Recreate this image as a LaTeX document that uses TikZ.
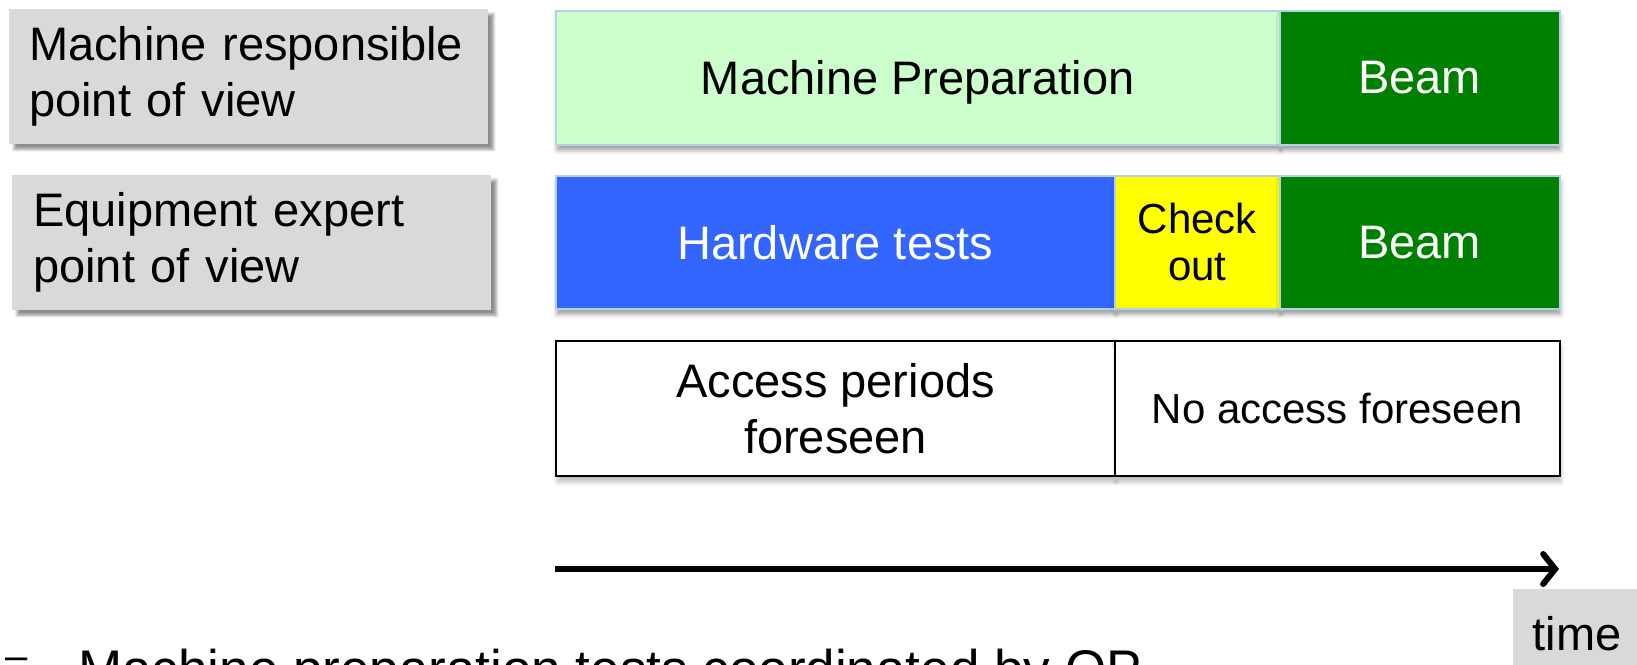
\documentclass[tikz,border=0pt]{standalone}
\usepackage{fontspec}
\setmainfont{Liberation Sans}
\usetikzlibrary{shadows, shadows.blur, arrows.meta, positioning, calc}

\definecolor{viewgray}{HTML}{D9D9D9}
\definecolor{prepgreen}{HTML}{CCFFCC}
\definecolor{beamgreen}{HTML}{008000}
\definecolor{hwblue}{HTML}{3366FF}
\definecolor{chkyellow}{HTML}{FFFF00}
\definecolor{edgeblue}{HTML}{B4D2E4}

\tikzset{
  viewbox/.style={fill=viewgray, anchor=north west, inner sep=0pt, align=left,
    blur shadow={shadow xshift=5pt, shadow yshift=-5pt, shadow blur radius=3pt, shadow opacity=45}},
  phase/.style={draw=edgeblue, line width=1.5pt, anchor=north west, inner sep=0pt, align=center,
    blur shadow={shadow xshift=1pt, shadow yshift=-6pt, shadow blur radius=4pt, shadow opacity=35}},
  accbox/.style={draw=black, line width=2pt, fill=white, anchor=north west, inner sep=0pt, align=center,
    blur shadow={shadow xshift=1pt, shadow yshift=-6pt, shadow blur radius=4pt, shadow opacity=25}},
  big/.style={font=\fontsize{47}{56}\selectfont},
  small/.style={font=\fontsize{42}{47}\selectfont}
}

\begin{document}
\begin{tikzpicture}[x=1pt, y=-1pt]
        \useasboundingbox (0,0) rectangle (1637,664);
%
        \node[viewbox, big, minimum width=479pt, minimum height=135pt, text width=479pt] (V1) at (9,9)
              {\hspace*{20pt}Machine responsible\\\hspace*{20pt}point of view};
        \node[viewbox, big, minimum width=479pt, minimum height=135pt, text width=479pt] (V2) at (12,175)
              {\hspace*{21pt}Equipment expert\\\hspace*{21pt}point of view};
%
        \node[phase, big, fill=prepgreen, minimum width=724pt, minimum height=134pt, text depth=0pt] (P) at (555,10) {Machine Preparation};
        \node[phase, big, fill=beamgreen, text=white, minimum width=280pt, minimum height=134pt] (B1) at (1279,10) {Beam};
%
        \node[phase, big, fill=hwblue, text=white, minimum width=559pt, minimum height=133pt] (H) at (555,175) {Hardware tests};
        \node[phase, small, fill=chkyellow, minimum width=165pt, minimum height=133pt] (C) at (1114,175) {Check\\out};
        \node[phase, big, fill=beamgreen, text=white, minimum width=280pt, minimum height=133pt] (B2) at (1279,175) {Beam};
%
        \node[accbox, big, minimum width=559pt, minimum height=135pt] (A) at (555,340) {Access periods\\foreseen};
        \node[accbox, small, minimum width=445pt, minimum height=135pt] (N) at (1114,340) {No access foreseen};
%
        \coordinate (T0) at (555,569);
        \coordinate (T1) at (1559,569);
        \draw[line width=6pt, -{Straight Barb[length=12pt, width=30pt, line cap=round]}] (T0) -- (T1);
        \node[fill=viewgray, anchor=north west, minimum width=130pt, minimum height=80pt, big] (TM) at (1513,589) {};
        \node[big, anchor=base] (TL) at (1577,650) {time};
%
        \node[font=\fontsize{40}{40}\selectfont, anchor=base west, inner sep=0pt] (D) at (5,669) {–};
        \node[font=\fontsize{53}{60}\selectfont, anchor=base west, inner sep=0pt] (OP) at (78,687)
              {Machine preparation tests coordinated by OP};
\end{tikzpicture}
\end{document}
